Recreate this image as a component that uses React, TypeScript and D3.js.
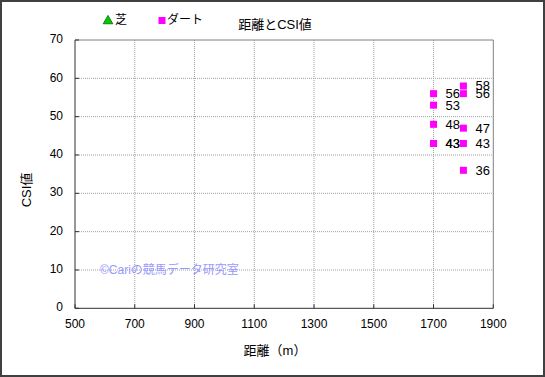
import React from "react";
import * as d3 from "d3";

const turfDist: number[] = [];
const turfCSI: number[] = [];
const dirtDist = [1700, 1700, 1700, 1700, 1700, 1800, 1800, 1800, 1800, 1800];
const dirtCSI = [56, 53, 48, 43, 43, 58, 56, 47, 43, 36];
const xTicks = [500, 700, 900, 1100, 1300, 1500, 1700, 1900];
const yTicks = [0, 10, 20, 30, 40, 50, 60, 70];

const W = 545, H = 377;
const FONT = "'Liberation Sans', Arial, 'Noto Sans CJK JP', sans-serif";

export default function App() {
  const x = d3.scaleLinear().domain([500, 1900]).range([75, 493.3]);
  const y = d3.scaleLinear().domain([0, 70]).range([308.3, 40]);
  const [x0, x1] = x.range();
  const [y0, y1] = y.range();
  const tri = d3.symbol(d3.symbolTriangle, 40)() as string;
  return (
    <div style={{ position: "fixed", left: 0, top: 0 }}>
      <svg width={W} height={H} style={{ display: "block", fontFamily: FONT }}>
        <rect x={0} y={0} width={W} height={H} fill="#fff" />
        <rect x={1} y={1} width={W - 2} height={H - 2} fill="none" stroke="#404040" strokeWidth={2} />
        {/* gridlines */}
        {xTicks.slice(1, -1).map((t) => (
          <line key={"gx" + t} x1={x(t)} x2={x(t)} y1={y1} y2={y0} stroke="#a0a0a0" strokeWidth={1} strokeDasharray="1,1" />
        ))}
        {yTicks.slice(1, -1).map((t) => (
          <line key={"gy" + t} x1={x0} x2={x1} y1={y(t)} y2={y(t)} stroke="#a0a0a0" strokeWidth={1} strokeDasharray="1,1" />
        ))}
        {/* frame */}
        <line x1={x0} x2={x1} y1={y1} y2={y1} stroke="#808080" strokeWidth={1} />
        <line x1={x1} x2={x1} y1={y1} y2={y0} stroke="#808080" strokeWidth={1} />
        <line x1={x0} x2={x0} y1={y1} y2={y0} stroke="#303030" strokeWidth={1} />
        <line x1={x0} x2={x1} y1={y0} y2={y0} stroke="#303030" strokeWidth={1} />
        {/* ticks */}
        {xTicks.map((t) => (
          <g key={"tx" + t}>
            <line x1={x(t)} x2={x(t)} y1={y0} y2={y0 - 4} stroke="#303030" />
            <text x={x(t)} y={325} fontSize={12} textAnchor="middle" dominantBaseline="middle" fill="#000">{t}</text>
          </g>
        ))}
        {yTicks.map((t) => (
          <g key={"ty" + t}>
            <line x1={x0} x2={x0 + 4} y1={y(t)} y2={y(t)} stroke="#303030" />
            <text x={63} y={y(t)} fontSize={12} textAnchor="end" dominantBaseline="middle" fill="#000">{t}</text>
          </g>
        ))}
        {/* watermark */}
        <text x={100} y={271} fontSize={12} fill="#9999ff" dominantBaseline="middle">©Cariの競馬データ研究室</text>
        {/* turf points */}
        {turfDist.map((d, i) => (
          <path key={"t" + i} d={tri} transform={`translate(${x(d)},${y(turfCSI[i])})`} fill="#00cc00" stroke="#006600" />
        ))}
        {/* dirt points */}
        {dirtDist.map((d, i) => (
          <rect key={"d" + i} x={x(d) - 3.5} y={y(dirtCSI[i]) - 3.5} width={7} height={7} fill="#ff00ff" />
        ))}
        {dirtDist.map((d, i) => (
          <text key={"l" + i} x={x(d) + 12} y={y(dirtCSI[i]) + 1} fontSize={13} dominantBaseline="middle" fill="#000">{dirtCSI[i]}</text>
        ))}
        {/* title */}
        <text x={275} y={26} fontSize={13} textAnchor="middle" dominantBaseline="middle" fill="#000">距離とCSI値</text>
        {/* legend */}
        <path d={tri} transform="translate(108,21)" fill="#00cc00" stroke="#006600" strokeWidth={0.8} />
        <text x={115} y={21} fontSize={12} dominantBaseline="middle" fill="#000">芝</text>
        <rect x={158.5} y={17} width={7} height={7} fill="#ff00ff" />
        <text x={167} y={21} fontSize={12} dominantBaseline="middle" fill="#000">ダート</text>
        {/* axis titles */}
        <text x={275} y={352} fontSize={13} textAnchor="middle" dominantBaseline="middle" fill="#000">距離（m）</text>
        <text transform="translate(28,190) rotate(-90)" fontSize={13} textAnchor="middle" dominantBaseline="middle" fill="#000">CSI値</text>
      </svg>
    </div>
  );
}
